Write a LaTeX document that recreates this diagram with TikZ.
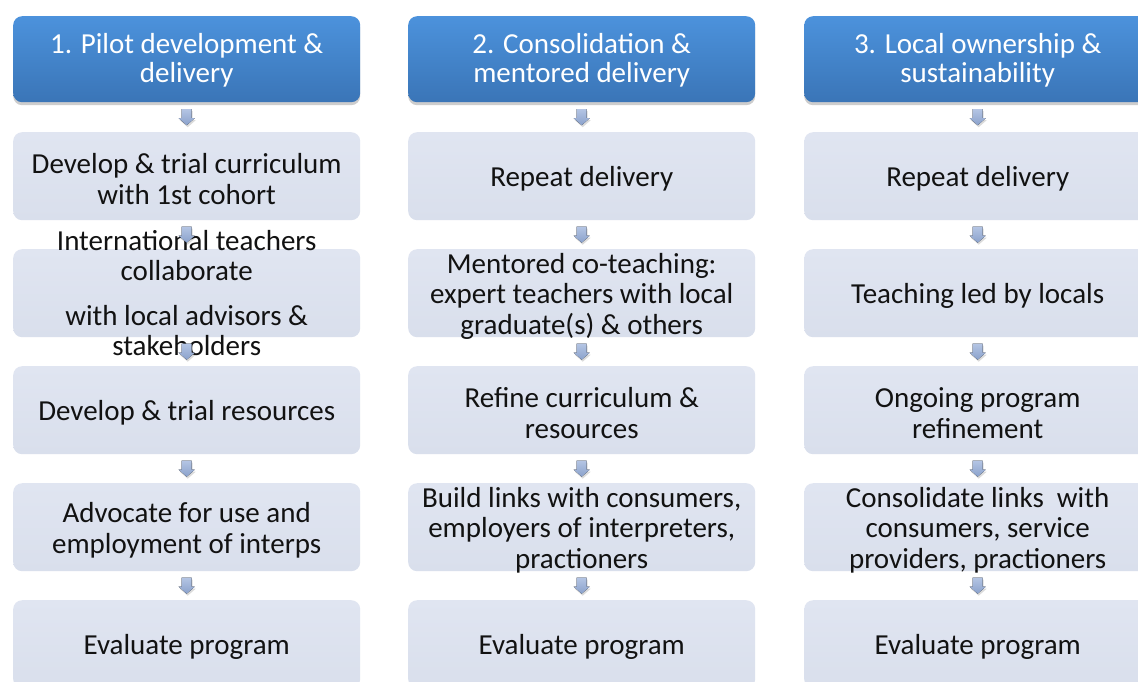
\documentclass[tikz,border=0pt]{standalone}
\usepackage{fontspec}
\setmainfont{Carlito}
\usetikzlibrary{calc,shadows}

\definecolor{hdtop}{RGB}{76,146,220}
\definecolor{hdbot}{RGB}{58,117,183}
\definecolor{bxtop}{RGB}{224,229,241}
\definecolor{bxbot}{RGB}{217,223,236}
\definecolor{artop}{RGB}{180,197,228}
\definecolor{arbot}{RGB}{138,161,203}
\definecolor{ink}{RGB}{18,18,18}

\tikzset{
  header/.style={rounded corners=9pt, minimum width=347pt, minimum height=86pt,
    anchor=north west, top color=hdtop, bottom color=hdbot, draw=none, inner sep=0pt,
    drop shadow={shadow xshift=0pt, shadow yshift=-3pt, opacity=0.28, fill=black!70},
    label={[headtext]center:{#1}}},
  headtext/.style={text=white, font=\fontsize{29}{29}\selectfont, align=center,
    inner sep=0pt, yshift=-1.5pt},
  stepbox/.style={rounded corners=9pt, minimum width=347pt, minimum height=88pt,
    anchor=north west, top color=bxtop, bottom color=bxbot, draw=none, inner sep=0pt,
    label={[steptext]center:{#1}}},
  steptext/.style={text=ink, font=\fontsize{29}{30.5}\selectfont, align=center,
    inner sep=0pt, yshift=-3pt},
  flowarrow/.style={top color=artop, bottom color=arbot},
  flowshadow/.style={fill=black, opacity=0.14}
}

% small down arrow halfway between two stacked nodes
\newcommand\flowdown[2]{%
  \coordinate (fm) at ($(#1.south)!0.5!(#2.north)$);
  \begin{scope}[shift={(fm)}]
    \fill[flowshadow] (-4,-6) -- (6,-6) -- (6,3) -- (9,3) -- (1,10) -- (-7,3) -- (-4,3) -- cycle;
    \fill[flowarrow] (-5,-8) -- (5,-8) -- (5,1) -- (8,1) -- (0,8) -- (-8,1) -- (-5,1) -- cycle;
  \end{scope}}

\begin{document}
\begin{tikzpicture}[x=1pt, y=-1pt]
  \useasboundingbox (0,0) rectangle (1138,681);
  \clip (0,0) rectangle (1138,681);
  \fill[white] (0,0) rectangle (1138,681);

  % column 1
  \node[header={1. Pilot development \&\\delivery}] (h1) at (13,16) {};
  \node[stepbox={Develop \& trial curriculum\\with 1st cohort}] (a1) at (13,132) {};
  \node[rounded corners=9pt, minimum width=347pt, minimum height=88pt, anchor=north west,
        top color=bxtop, bottom color=bxbot, inner sep=0pt,
        label={[steptext, yshift=3pt]center:{International teachers\\collaborate\\[14pt]with local advisors \&\\stakeholders}}] (a2) at (13,249) {};
  \node[stepbox={Develop \& trial resources}] (a3) at (13,366) {};
  \node[stepbox={Advocate for use and\\employment of interps}] (a4) at (13,483) {};
  \node[stepbox={Evaluate program}] (a5) at (13,600) {};

  % column 2
  \node[header={2. Consolidation \&\\mentored delivery}] (h2) at (408,16) {};
  \node[stepbox={Repeat delivery}] (b1) at (408,132) {};
  \node[stepbox={Mentored co-teaching:\\expert teachers with local\\graduate(s) \& others}] (b2) at (408,249) {};
  \node[stepbox={Refine curriculum \&\\resources}] (b3) at (408,366) {};
  \node[stepbox={Build links with consumers,\\employers of interpreters,\\practioners}] (b4) at (408,483) {};
  \node[stepbox={Evaluate program}] (b5) at (408,600) {};

  % column 3
  \node[header={3. Local ownership \&\\sustainability}] (h3) at (804,16) {};
  \node[stepbox={Repeat delivery}] (c1) at (804,132) {};
  \node[stepbox={Teaching led by locals}] (c2) at (804,249) {};
  \node[stepbox={Ongoing program\\refinement}] (c3) at (804,366) {};
  \node[stepbox={Consolidate links\ \ with\\consumers, service\\providers, practioners}] (c4) at (804,483) {};
  \node[stepbox={Evaluate program}] (c5) at (804,600) {};

  % arrows, drawn over boxes and text
  \foreach \col in {a,b,c}{
    \flowdown{\col1}{\col2}
    \flowdown{\col2}{\col3}
    \flowdown{\col3}{\col4}
    \flowdown{\col4}{\col5}
  }
  \flowdown{h1}{a1}
  \flowdown{h2}{b1}
  \flowdown{h3}{c1}
\end{tikzpicture}
\end{document}
